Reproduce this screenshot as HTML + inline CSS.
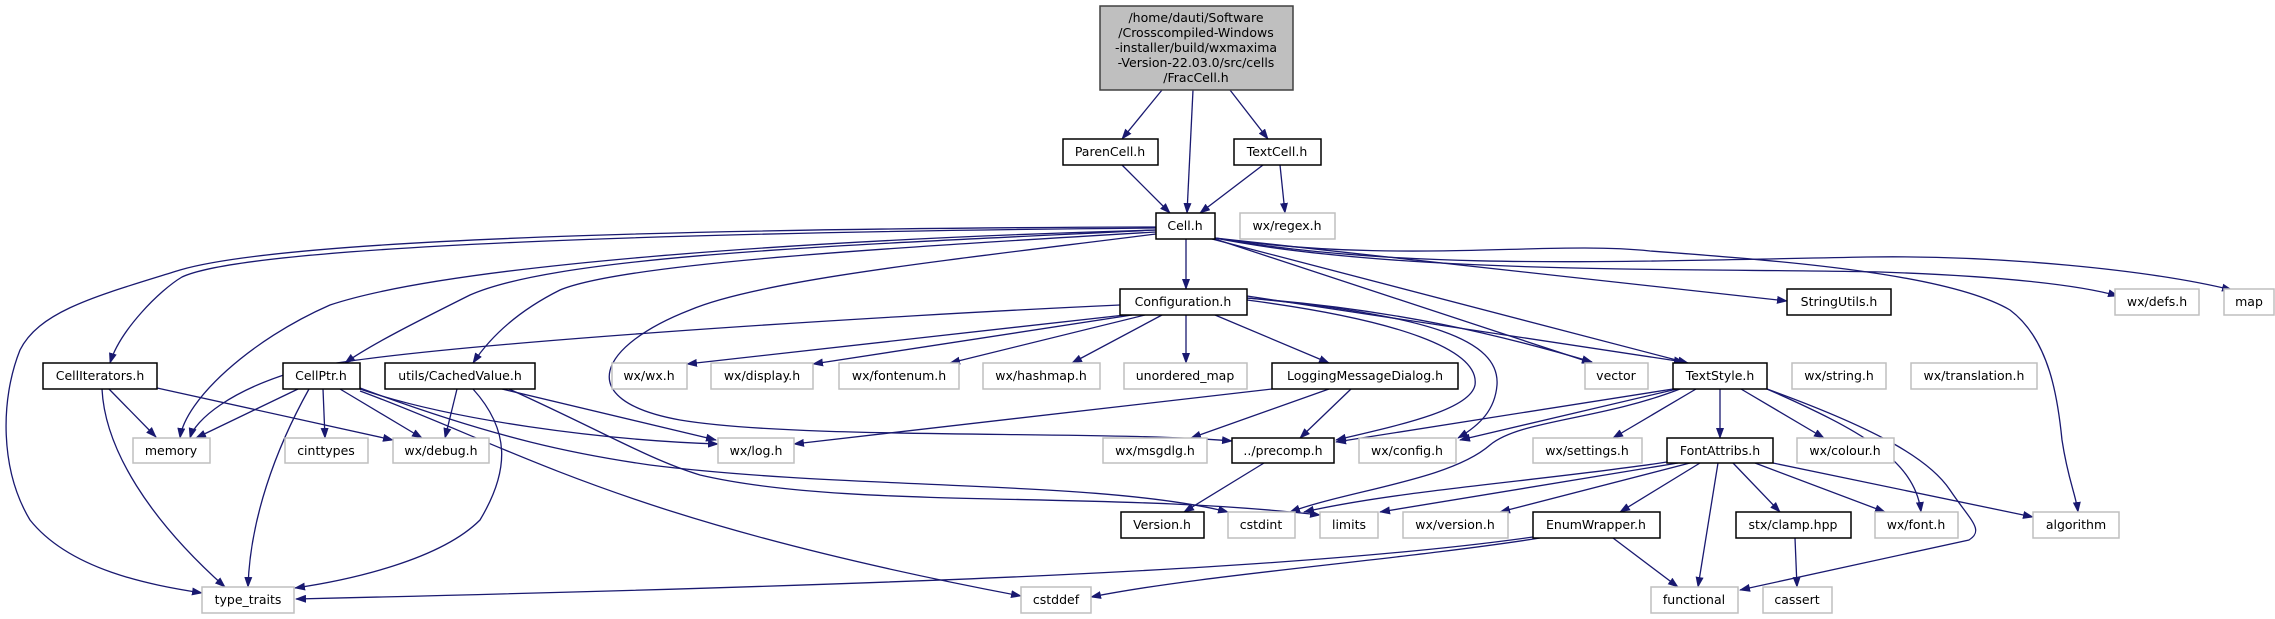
<!DOCTYPE html>
<html><head><meta charset="utf-8"><style>
html,body{margin:0;padding:0;background:#fff;}
svg{display:block;}
text{font-family:"DejaVu Sans","Liberation Sans",sans-serif;font-size:12.5px;fill:#000;text-anchor:middle;}
.b{fill:#fff;stroke:#000;stroke-width:1.5;}
.g{fill:#fff;stroke:#bfbfbf;stroke-width:1.5;}
.e{fill:none;stroke:#191970;stroke-width:1.3;marker-end:url(#a);}
</style></head><body>
<svg width="2275" height="619" viewBox="0 0 2275 619" xmlns="http://www.w3.org/2000/svg">
<defs><marker id="a" markerUnits="userSpaceOnUse" markerWidth="11" markerHeight="8" refX="10" refY="4" orient="auto"><path d="M0,0 L11,4 L0,8 z" fill="#191970"/></marker></defs>
<g>
<path class="e" d="M1162,90 L1122,139"/>
<path class="e" d="M1193,90 L1187,213"/>
<path class="e" d="M1230,90 L1268,139"/>
<path class="e" d="M1122,165 L1170,213"/>
<path class="e" d="M1263,165 L1200,213"/>
<path class="e" d="M1280,165 L1285,213"/>
<path class="e" d="M1186,239 L1186,289"/>
<path class="e" d="M1215,238 L1787,301"/>
<path class="e" d="M1215,238 C1400,265 1550,240 1650,251 C1800,262 1950,275 2010,310 C2050,340 2058,400 2062,440 C2068,480 2076,495 2078,512"/>
<path class="e" d="M1215,238 C1400,270 1600,262 1867,257 C2000,255 2150,270 2232,290"/>
<path class="e" d="M1215,238 C1400,275 1700,268 1880,272 C2000,276 2080,285 2118,296"/>
<path class="e" d="M1215,239 L1592,363"/>
<path class="e" d="M1212,239 L1688,363"/>
<path class="e" d="M1156,227 C800,228 300,235 180,270 C100,295 40,310 20,350 C0,400 0,470 30,520 C70,570 150,585 202,593"/>
<path class="e" d="M1156,228 C700,232 250,245 182,277 C160,290 120,330 110,363"/>
<path class="e" d="M1156,230 C800,240 450,265 330,305 C250,340 185,400 180,438"/>
<path class="e" d="M1156,230 C850,245 560,255 470,295 C420,320 370,345 345,363"/>
<path class="e" d="M1156,232 C850,250 620,265 560,290 C510,315 485,345 473,363"/>
<path class="e" d="M1156,234 C950,260 760,280 690,310 C600,345 570,400 680,420 C800,440 1100,430 1232,441"/>
<path class="e" d="M1120,305 C900,315 400,345 300,370 C230,390 195,420 190,438"/>
<path class="e" d="M1125,315 L687,364"/>
<path class="e" d="M1132,315 L813,364"/>
<path class="e" d="M1145,315 L950,363"/>
<path class="e" d="M1162,315 L1072,363"/>
<path class="e" d="M1186,315 L1186,363"/>
<path class="e" d="M1215,315 L1329,363"/>
<path class="e" d="M1247,298 C1400,310 1500,335 1592,362"/>
<path class="e" d="M1247,296 L1684,362"/>
<path class="e" d="M1247,300 C1400,320 1480,350 1475,385 C1470,410 1400,425 1336,440"/>
<path class="e" d="M1247,298 C1430,315 1500,340 1497,385 C1495,410 1480,425 1458,438"/>
<path class="e" d="M1272,389 L794,444"/>
<path class="e" d="M1329,389 L1191,438"/>
<path class="e" d="M1351,389 L1300,438"/>
<path class="e" d="M1673,389 L1336,442"/>
<path class="e" d="M1677,389 L1460,440"/>
<path class="e" d="M1680,389 C1600,420 1520,420 1490,445 C1450,480 1350,490 1290,512"/>
<path class="e" d="M1696,389 L1613,438"/>
<path class="e" d="M1720,389 L1720,438"/>
<path class="e" d="M1741,389 L1824,438"/>
<path class="e" d="M1767,389 C1860,430 1915,460 1921,512"/>
<path class="e" d="M1767,389 C1880,430 1930,460 1950,490 C1970,520 1985,530 1969,540 L1740,590"/>
<path class="e" d="M1667,462 C1550,480 1400,490 1304,512"/>
<path class="e" d="M1678,463 L1380,512"/>
<path class="e" d="M1690,463 L1500,512"/>
<path class="e" d="M1700,463 L1620,512"/>
<path class="e" d="M1718,463 L1698,587"/>
<path class="e" d="M1733,463 L1780,512"/>
<path class="e" d="M1755,463 L1885,512"/>
<path class="e" d="M1773,463 L2033,517"/>
<path class="e" d="M1795,538 L1797,587"/>
<path class="e" d="M1613,538 L1678,587"/>
<path class="e" d="M1533,537 C1300,570 900,585 296,599"/>
<path class="e" d="M1540,538 C1400,560 1200,575 1091,597"/>
<path class="e" d="M1264,463 L1184,512"/>
<path class="e" d="M109,389 L156,437"/>
<path class="e" d="M102,389 C105,450 150,520 225,587"/>
<path class="e" d="M157,388 L393,440"/>
<path class="e" d="M298,389 L196,438"/>
<path class="e" d="M309,389 C275,450 250,520 248,587"/>
<path class="e" d="M323,389 L325,438"/>
<path class="e" d="M340,389 L422,438"/>
<path class="e" d="M360,389 C450,420 600,440 718,444"/>
<path class="e" d="M360,391 C520,450 620,520 1021,596"/>
<path class="e" d="M360,388 C500,440 580,455 650,465 C850,490 1100,480 1228,512"/>
<path class="e" d="M457,389 L445,438"/>
<path class="e" d="M473,389 C510,430 510,470 480,520 C440,560 350,580 295,588"/>
<path class="e" d="M502,389 L716,440"/>
<path class="e" d="M509,389 C600,430 650,460 700,475 C850,510 1100,490 1320,515"/>
</g>
<rect x="1100" y="6" width="193" height="84" fill="#bfbfbf" stroke="#404040" stroke-width="1.5"/>
<text x="1196" y="22">/home/dauti/Software</text>
<text x="1196" y="37">/Crosscompiled-Windows</text>
<text x="1196" y="52">-installer/build/wxmaxima</text>
<text x="1196" y="67">-Version-22.03.0/src/cells</text>
<text x="1196" y="82">/FracCell.h</text>
<g>
<rect class="b" x="1063" y="139" width="95" height="26"/><text x="1110" y="156">ParenCell.h</text>
<rect class="b" x="1234" y="139" width="87" height="26"/><text x="1277" y="156">TextCell.h</text>
<rect class="b" x="1156" y="213" width="59" height="26"/><text x="1185" y="230">Cell.h</text>
<rect class="g" x="1240" y="213" width="95" height="26"/><text x="1287" y="230">wx/regex.h</text>
<rect class="b" x="1120" y="289" width="127" height="26"/><text x="1183" y="306">Configuration.h</text>
<rect class="b" x="1787" y="289" width="104" height="26"/><text x="1839" y="306">StringUtils.h</text>
<rect class="g" x="2115" y="289" width="84" height="26"/><text x="2157" y="306">wx/defs.h</text>
<rect class="g" x="2224" y="289" width="50" height="26"/><text x="2249" y="306">map</text>

<rect class="b" x="43" y="363" width="114" height="26"/><text x="100" y="380">CellIterators.h</text>
<rect class="b" x="283" y="363" width="77" height="26"/><text x="321" y="380">CellPtr.h</text>
<rect class="b" x="385" y="363" width="150" height="26"/><text x="460" y="380">utils/CachedValue.h</text>
<rect class="g" x="612" y="363" width="75" height="26"/><text x="649" y="380">wx/wx.h</text>
<rect class="g" x="711" y="363" width="102" height="26"/><text x="762" y="380">wx/display.h</text>
<rect class="g" x="839" y="363" width="120" height="26"/><text x="899" y="380">wx/fontenum.h</text>
<rect class="g" x="983" y="363" width="117" height="26"/><text x="1041" y="380">wx/hashmap.h</text>
<rect class="g" x="1124" y="363" width="123" height="26"/><text x="1185" y="380">unordered_map</text>
<rect class="b" x="1272" y="363" width="186" height="26"/><text x="1365" y="380">LoggingMessageDialog.h</text>
<rect class="g" x="1585" y="363" width="63" height="26"/><text x="1616" y="380">vector</text>
<rect class="b" x="1673" y="363" width="94" height="26"/><text x="1720" y="380">TextStyle.h</text>
<rect class="g" x="1792" y="363" width="94" height="26"/><text x="1839" y="380">wx/string.h</text>
<rect class="g" x="1911" y="363" width="126" height="26"/><text x="1974" y="380">wx/translation.h</text>

<rect class="g" x="133" y="438" width="77" height="25"/><text x="171" y="455">memory</text>
<rect class="g" x="285" y="438" width="83" height="25"/><text x="326" y="455">cinttypes</text>
<rect class="g" x="393" y="438" width="96" height="25"/><text x="441" y="455">wx/debug.h</text>
<rect class="g" x="718" y="438" width="76" height="25"/><text x="756" y="455">wx/log.h</text>
<rect class="g" x="1103" y="438" width="104" height="25"/><text x="1155" y="455">wx/msgdlg.h</text>
<rect class="b" x="1232" y="438" width="102" height="25"/><text x="1283" y="455">../precomp.h</text>
<rect class="g" x="1359" y="438" width="97" height="25"/><text x="1407" y="455">wx/config.h</text>
<rect class="g" x="1533" y="438" width="109" height="25"/><text x="1587" y="455">wx/settings.h</text>
<rect class="b" x="1667" y="438" width="106" height="25"/><text x="1720" y="455">FontAttribs.h</text>
<rect class="g" x="1797" y="438" width="97" height="25"/><text x="1845" y="455">wx/colour.h</text>

<rect class="b" x="1121" y="512" width="83" height="26"/><text x="1162" y="529">Version.h</text>
<rect class="g" x="1228" y="512" width="67" height="26"/><text x="1261" y="529">cstdint</text>
<rect class="g" x="1320" y="512" width="58" height="26"/><text x="1349" y="529">limits</text>
<rect class="g" x="1403" y="512" width="105" height="26"/><text x="1455" y="529">wx/version.h</text>
<rect class="b" x="1533" y="512" width="127" height="26"/><text x="1596" y="529">EnumWrapper.h</text>
<rect class="b" x="1736" y="512" width="115" height="26"/><text x="1793" y="529">stx/clamp.hpp</text>
<rect class="g" x="1875" y="512" width="83" height="26"/><text x="1916" y="529">wx/font.h</text>
<rect class="g" x="2033" y="512" width="86" height="26"/><text x="2076" y="529">algorithm</text>

<rect class="g" x="202" y="587" width="92" height="26"/><text x="248" y="604">type_traits</text>
<rect class="g" x="1021" y="587" width="70" height="26"/><text x="1056" y="604">cstddef</text>
<rect class="g" x="1651" y="587" width="87" height="26"/><text x="1694" y="604">functional</text>
<rect class="g" x="1763" y="587" width="69" height="26"/><text x="1797" y="604">cassert</text>
</g>
</svg>
</body></html>
